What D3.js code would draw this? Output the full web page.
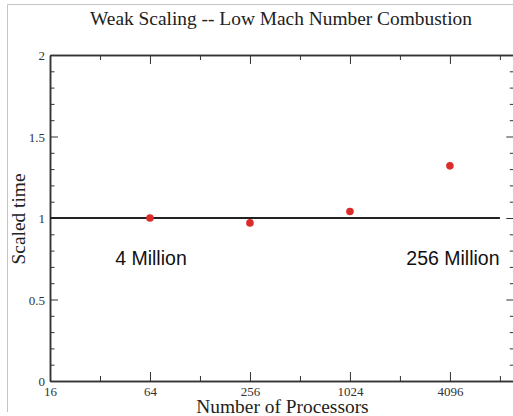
<!DOCTYPE html>
<html>
<head>
<meta charset="utf-8">
<script src="https://cdn.jsdelivr.net/npm/d3@7"></script>
<style>
  body { margin: 0; background: #fff; }
  svg { display: block; }
</style>
</head>
<body>
<div id="chart"></div>
<script>
// weak scaling chart

const processors = [64, 256, 1024, 4096];
const scaledTime = [1.00, 0.97, 1.04, 1.32];

// reference line (ideal scaling)
const refLineX = [16, 8192];
const refLineY = [1, 1];

const xMajorTicks = [16, 64, 256, 1024, 4096];
const xMinorTicks = [32, 128, 512, 2048, 8192];
const yMajorTicks = [0, 0.5, 1, 1.5, 2];
const yMinorTicks = [0.1, 0.2, 0.3, 0.4, 0.6, 0.7, 0.8, 0.9, 1.1, 1.2, 1.3, 1.4, 1.6, 1.7, 1.8, 1.9];

const annotationText = ["4 Million", "256 Million"];
const annotationX = [64, 4096];
const annotationY = [0.71, 0.71];

const width = 513;
const height = 416;
const margin = { left: 50, top: 55, right: 514.3, bottom: 381 };

const serif = "'Liberation Serif', 'DejaVu Serif', serif";
const sans = "'Liberation Sans', Arial, sans-serif";

const svg = d3.select("#chart").append("svg")
    .attr("width", width)
    .attr("height", height);

// faint page border
svg.append("path")
    .attr("d", `M7.5,412 V4.5 H${width}`)
    .attr("fill", "none")
    .attr("stroke", "#c4c4c4")
    .attr("stroke-width", 1);

const x = d3.scaleLog().base(2)
    .domain([16, 10000])
    .range([margin.left, margin.right]);

const y = d3.scaleLinear()
    .domain([0, 2])
    .range([margin.bottom, margin.top]);

const axisColor = "#333";

function styleAxis(g) {
    g.select(".domain").attr("stroke", axisColor).attr("stroke-width", 1.5);
    g.selectAll(".tick line").attr("stroke", axisColor).attr("stroke-width", 1);
    g.selectAll(".tick text")
        .attr("fill", "#333")
        .attr("font-family", serif)
        .attr("font-size", "13px");
}

// bottom axis, major ticks with labels
const xBottom = svg.append("g")
    .attr("transform", `translate(0,${margin.bottom})`)
    .call(d3.axisBottom(x)
        .tickValues(xMajorTicks)
        .tickFormat(d3.format("d"))
        .tickSizeInner(-9)
        .tickSizeOuter(0)
        .tickPadding(6));
styleAxis(xBottom);
xBottom.selectAll(".tick text").attr("dy", "0.71em");

// bottom minor ticks
const xBottomMinor = svg.append("g")
    .attr("transform", `translate(0,${margin.bottom})`)
    .call(d3.axisBottom(x).tickValues(xMinorTicks).tickFormat("").tickSizeInner(-5).tickSizeOuter(0));
styleAxis(xBottomMinor);

// top axis (mirror)
const xTop = svg.append("g")
    .attr("transform", `translate(0,${margin.top})`)
    .call(d3.axisTop(x).tickValues(xMajorTicks).tickFormat("").tickSizeInner(-9).tickSizeOuter(0));
styleAxis(xTop);
const xTopMinor = svg.append("g")
    .attr("transform", `translate(0,${margin.top})`)
    .call(d3.axisTop(x).tickValues(xMinorTicks).tickFormat("").tickSizeInner(-5).tickSizeOuter(0));
styleAxis(xTopMinor);

// left axis
const yLeft = svg.append("g")
    .attr("transform", `translate(${margin.left},0)`)
    .call(d3.axisLeft(y)
        .tickValues(yMajorTicks)
        .tickFormat(d => d3.format("")(d))
        .tickSizeInner(-8)
        .tickSizeOuter(0)
        .tickPadding(5));
styleAxis(yLeft);
yLeft.selectAll(".tick text").attr("dy", "0.36em");

const yLeftMinor = svg.append("g")
    .attr("transform", `translate(${margin.left},0)`)
    .call(d3.axisLeft(y).tickValues(yMinorTicks).tickFormat("").tickSizeInner(-4.5).tickSizeOuter(0));
styleAxis(yLeftMinor);

// right axis (mirror)
const yRight = svg.append("g")
    .attr("transform", `translate(${margin.right},0)`)
    .call(d3.axisRight(y).tickValues(yMajorTicks).tickFormat("").tickSizeInner(-8).tickSizeOuter(0));
styleAxis(yRight);
const yRightMinor = svg.append("g")
    .attr("transform", `translate(${margin.right},0)`)
    .call(d3.axisRight(y).tickValues(yMinorTicks).tickFormat("").tickSizeInner(-4.5).tickSizeOuter(0));
styleAxis(yRightMinor);

// ideal scaling line
const line = d3.line()
    .x(d => x(d[0]))
    .y(d => y(d[1]));

svg.append("path")
    .datum(refLineX.map((v, i) => [v, refLineY[i]]))
    .attr("d", line)
    .attr("fill", "none")
    .attr("stroke", "#222")
    .attr("stroke-width", 1.8);

// data points
svg.selectAll(".pt")
    .data(processors.map((p, i) => ({ p: p, t: scaledTime[i] })))
    .join("circle")
    .attr("class", "pt")
    .attr("cx", d => x(d.p))
    .attr("cy", d => y(d.t))
    .attr("r", 3.8)
    .attr("fill", "#dc2b2b");

// problem size annotations
svg.selectAll(".note")
    .data(annotationText.map((t, i) => ({ t: t, x: annotationX[i], y: annotationY[i] })))
    .join("text")
    .attr("class", "note")
    .attr("x", (d, i) => x(d.x) + (i === 1 ? 3 : 1))
    .attr("y", d => y(d.y))
    .attr("text-anchor", "middle")
    .attr("font-family", sans)
    .attr("font-size", "19.5px")
    .attr("fill", "#111")
    .text(d => d.t);

// title
svg.append("text")
    .attr("x", 281)
    .attr("y", 25)
    .attr("text-anchor", "middle")
    .attr("font-family", serif)
    .attr("font-size", "19.4px")
    .attr("fill", "#222")
    .text("Weak Scaling -- Low Mach Number Combustion");

// axis titles
svg.append("text")
    .attr("x", 282.5)
    .attr("y", 413)
    .attr("text-anchor", "middle")
    .attr("font-family", serif)
    .attr("font-size", "19.4px")
    .attr("fill", "#222")
    .text("Number of Processors");

svg.append("text")
    .attr("transform", `translate(25,219) rotate(-90)`)
    .attr("text-anchor", "middle")
    .attr("font-family", serif)
    .attr("font-size", "19.4px")
    .attr("fill", "#222")
    .text("Scaled time");
</script>
</body>
</html>
